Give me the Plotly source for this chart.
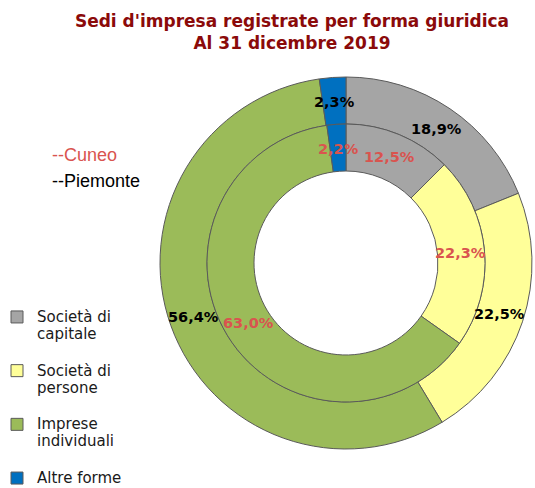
import math
import plotly.graph_objects as go

# ---- data ----
categories = ["Società di capitale", "Società di persone", "Imprese individuali", "Altre forme"]
legend_lines = [["Società di", "capitale"], ["Società di", "persone"], ["Imprese", "individuali"], ["Altre forme"]]
piemonte = [18.9, 22.5, 56.4, 2.3]   # outer ring
cuneo = [12.5, 22.3, 63.0, 2.2]      # inner ring
colors = ["#A5A5A5", "#FFFF99", "#9BBB59", "#0070C0"]
series_names = ["--Cuneo", "--Piemonte"]
title_lines = ["Sedi d'impresa registrate per forma giuridica", "Al 31 dicembre 2019"]

# ---- layout geometry ----
W, H = 535, 488
CX, CY = 346, 263            # pie centre (px from top-left)
R_OUT, R_MID, R_IN = 186, 139, 92
RED = "#D9544F"
TITLE_RED = "#8B0A0A"


def domain(r):
    return dict(x=[(CX - r) / W, (CX + r) / W],
                y=[(H - CY - r) / H, (H - CY + r) / H])


def legend_label(lines, last):
    spans = ["<span style='font-size:15px'>%s</span>" % s for s in lines]
    if not last:
        spans.append("\u00a0")
    return "<br>".join(spans)


labels = [legend_label(l, i == len(legend_lines) - 1) for i, l in enumerate(legend_lines)]

line_style = dict(color="#5A5A5A", width=1)

fig = go.Figure()
fig.add_trace(go.Pie(
    labels=labels, values=piemonte, name="Piemonte",
    hole=R_MID / R_OUT, domain=domain(R_OUT), sort=False, direction="clockwise",
    rotation=0, marker=dict(colors=colors, line=line_style), textinfo="none",
    hovertext=categories, hoverinfo="text+percent", showlegend=True,
))
fig.add_trace(go.Pie(
    labels=labels, values=cuneo, name="Cuneo",
    hole=R_IN / R_MID, domain=domain(R_MID), sort=False, direction="clockwise",
    rotation=0, marker=dict(colors=colors, line=line_style), textinfo="none",
    hovertext=categories, hoverinfo="text+percent", showlegend=False,
))


def ring_labels(values, r, color):
    total = sum(values)
    acc = 0.0
    out = []
    for v in values:
        mid = (acc + v / 2) / total * 2 * math.pi
        acc += v
        x = CX + r * math.sin(mid)
        y = CY - r * math.cos(mid)
        out.append(dict(
            x=x / W, y=1 - y / H, xref="paper", yref="paper",
            text=("%.1f" % v).replace(".", ",") + "%", showarrow=False,
            xanchor="center", yanchor="middle",
            font=dict(family="DejaVu Sans", size=14.5, color=color, weight="bold"),
        ))
    return out


annotations = []
annotations += ring_labels(piemonte, (R_MID + R_OUT) / 2 - 1, "#000000")
annotations += ring_labels(cuneo, (R_IN + R_MID) / 2 - 1, RED)
annotations.append(dict(x=50 / W, y=1 - 155 / H, xref="paper", yref="paper", text=series_names[0],
                        showarrow=False, xanchor="left", yanchor="middle",
                        font=dict(family="Liberation Sans", size=18, color=RED)))
annotations.append(dict(x=50 / W, y=1 - 181 / H, xref="paper", yref="paper", text=series_names[1],
                        showarrow=False, xanchor="left", yanchor="middle",
                        font=dict(family="Liberation Sans", size=18, color="#000000")))

fig.update_layout(
    width=W, height=H, autosize=False,
    margin=dict(l=0, r=0, t=0, b=0, autoexpand=False),
    paper_bgcolor="white", plot_bgcolor="white",
    title=dict(text="<br>".join(title_lines), x=292 / W, xanchor="center",
               y=1 - 27 / H, yanchor="top", xref="paper", yref="container",
               font=dict(family="DejaVu Sans", size=17, color=TITLE_RED, weight="bold")),
    legend=dict(x=-3 / W, xanchor="left", y=1 - 302 / H, yanchor="top", valign="top",
                font=dict(family="DejaVu Sans", size=13, color="#1A1A1A"),
                bgcolor="rgba(0,0,0,0)", itemclick=False, itemdoubleclick=False),
    annotations=annotations,
    showlegend=True,
)

fig.write_html("out.html", config={"displayModeBar": False},
               post_script="document.body.style.margin='0px';document.body.style.overflow='hidden';")
